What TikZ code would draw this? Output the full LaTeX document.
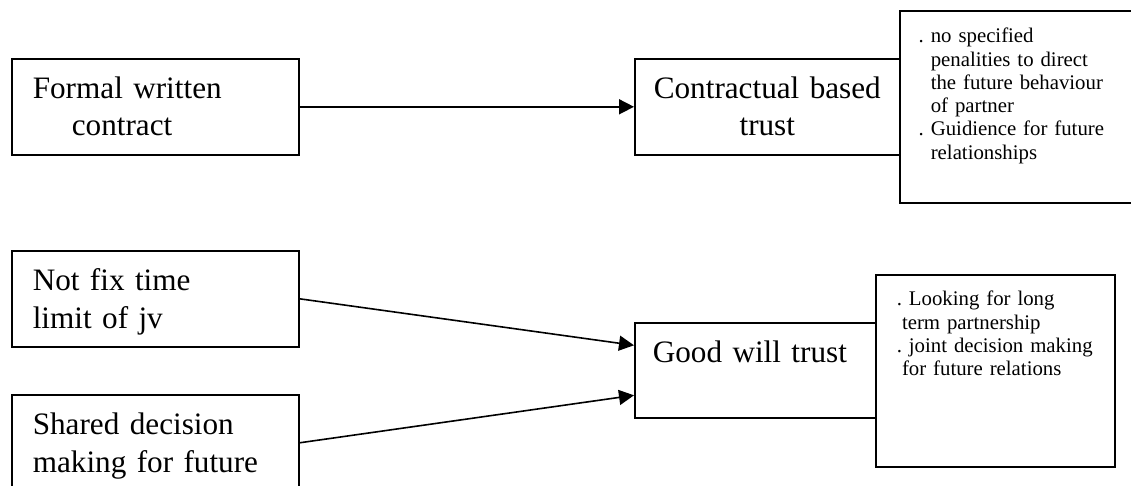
\documentclass[tikz,border=0pt]{standalone}
\usepackage{fontspec}
\setmainfont{Liberation Serif}
\usetikzlibrary{arrows.meta}
\begin{document}
\begin{tikzpicture}[x=1pt,y=-1pt,
    box/.style={draw,line width=1.6pt,anchor=north west,inner ysep=0pt,align=left,
      font=\fontsize{31.2}{37.3}\selectfont},
    note/.style={box,font=\fontsize{20.8}{23.3}\selectfont},
    arr/.style={line width=1.6pt,-{Triangle[length=15pt,width=15pt]}}]
  \fill[white](0,0) rectangle (1131,486);
  \useasboundingbox(0,0) rectangle (1131,486);
  \node[box,minimum width=287pt,minimum height=96pt,inner xsep=21pt,text width=245pt,
    text height=39.5pt,text depth=56.5pt](formal) at (11,58) {Formal written\\\hspace*{39pt}contract};
  \node[box,align=center,minimum width=265pt,minimum height=96pt,inner xsep=8pt,text width=249pt,
    text height=39.5pt,text depth=56.5pt](contract) at (634,58) {Contractual based\\trust};
  \node[note,minimum width=237pt,minimum height=192pt,inner xsep=31pt,text width=205pt,
    text height=32pt,text depth=160pt](notesa) at (899,10)
    {\leavevmode\llap{.\ }no specified\\penalities to direct\\the future behaviour\\of partner\\
     \leavevmode\llap{.\ }Guidience for future\\relationships};
  \node[box,minimum width=287pt,minimum height=96pt,inner xsep=21pt,text width=245pt,
    text height=40pt,text depth=56pt](nofix) at (11,250) {Not fix time\\limit of jv};
  \node[box,minimum width=287pt,minimum height=96pt,inner xsep=21pt,text width=245pt,
    text height=40pt,text depth=56pt](shared) at (11,394) {Shared decision\\making for future};
  \node[box,minimum width=241pt,minimum height=95pt,inner xsep=18pt,text width=205pt,
    text height=40pt,text depth=55pt](goodwill) at (634,322) {Good will trust};
  \node[note,minimum width=239pt,minimum height=192pt,inner xsep=21pt,text width=197pt,
    text height=31pt,text depth=161pt](notesb) at (875,274)
    {\mbox{.\ Looking for long}\\\mbox{\hspace*{0.25em}term partnership}\\
     \mbox{.\ joint decision making}\\\mbox{\hspace*{0.25em}for future relations}};
  \draw[arr](formal) -- (contract);
  \draw[arr](nofix.east) -- ([yshift=25pt]goodwill.west);
  \draw[arr](shared.east) -- ([yshift=-25pt]goodwill.west);
\end{tikzpicture}
\end{document}
